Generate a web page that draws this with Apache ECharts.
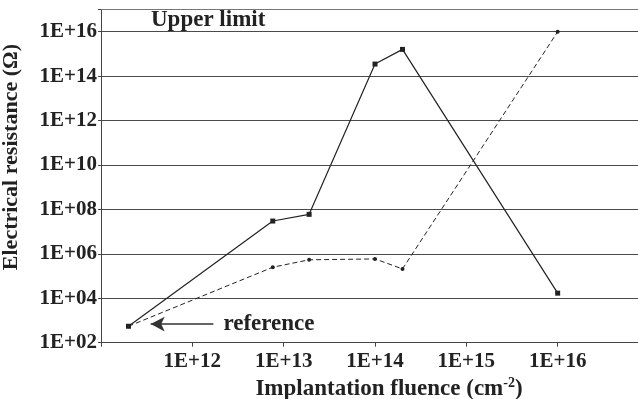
<!DOCTYPE html>
<html>
<head>
<meta charset="utf-8">
<script src="https://cdn.jsdelivr.net/npm/echarts@6/dist/echarts.min.js"></script>
<style>
  html, body { margin: 0; padding: 0; background: #fff; }
  #chart { width: 638px; height: 399px; }
</style>
</head>
<body>
<div id="chart"></div>
<script>
// Implantation fluence (cm^-2) of each sample; the first one is the unimplanted reference
const fluence = [2e11, 7.6e12, 1.9e13, 1e14, 2e14, 1e16];
// Electrical resistance (Ohm), solid curve with square markers
const resistanceSolid = [550, 3e7, 6e7, 3.5e14, 1.6e15, 1.7e4];
// Electrical resistance (Ohm), dashed curve with small dot markers
const resistanceDashed = [550, 2.5e5, 5.4e5, 5.9e5, 2.1e5, 1e16];

const xTickLabels = ['1E+12', '1E+13', '1E+14', '1E+15', '1E+16'];
const yTickLabels = ['1E+02', '1E+04', '1E+06', '1E+08', '1E+10', '1E+12', '1E+14', '1E+16'];

const upperLimit = 1e17;
const referenceArrow = { from: [1.7e12, 690], to: [3.5e11, 690] };

const FONT = '"Liberation Serif", "Times New Roman", serif';

function expLabel(v) {
  const e = Math.round(Math.log10(v));
  return '1E+' + String(e).padStart(2, '0');
}

const chart = echarts.init(document.getElementById('chart'), null, { renderer: 'canvas' });

chart.setOption({
  backgroundColor: '#fff',
  animation: false,
  grid: { left: 101, right: -11, top: 9.5, bottom: 56.3, containLabel: false, outerBoundsMode: 'none' },
  xAxis: {
    type: 'log',
    logBase: 10,
    min: 1e11,
    max: 1e17,
    interval: 1,
    name: 'Implantation fluence (cm{sup|-2})',
    nameLocation: 'middle',
    nameGap: 32,
    nameTextStyle: {
      fontFamily: FONT, fontWeight: 'bold', fontSize: 23, color: '#222',
      padding: [0, 0, 0, 28],
      rich: { sup: { fontFamily: FONT, fontWeight: 'bold', fontSize: 14, color: '#222', verticalAlign: 'top', padding: [0, 0, 10, 0] } }
    },
    axisLine: { show: true, lineStyle: { color: '#444', width: 1 } },
    axisTick: { show: true, length: 4, lineStyle: { color: '#444' } },
    minorTick: { show: false },
    splitLine: { show: false },
    axisLabel: {
      margin: 8,
      fontFamily: FONT, fontWeight: 'bold', fontSize: 21, color: '#222',
      formatter: function (v) {
        const s = expLabel(v);
        return xTickLabels.indexOf(s) >= 0 ? s : '';
      }
    }
  },
  yAxis: {
    type: 'log',
    logBase: 10,
    min: 1e2,
    max: upperLimit,
    interval: 2,
    name: 'Electrical resistance (Ω)',
    nameLocation: 'middle',
    nameGap: 79,
    nameTextStyle: {
      fontFamily: FONT, fontWeight: 'bold', fontSize: 22, color: '#222',
      padding: [0, 0, 0, 38]
    },
    axisLine: { show: true, lineStyle: { color: '#444', width: 1 } },
    axisTick: { show: true, length: 3, lineStyle: { color: '#444' } },
    minorTick: { show: false },
    splitLine: { show: true, lineStyle: { color: '#4a4a4a', width: 1 } },
    axisLabel: {
      margin: 4,
      fontFamily: FONT, fontWeight: 'bold', fontSize: 21, color: '#222',
      formatter: function (v) {
        const s = expLabel(v);
        return yTickLabels.indexOf(s) >= 0 ? s : '';
      }
    }
  },
  graphic: [
    {
      type: 'text',
      left: 151,
      top: 9,
      style: { text: 'Upper limit', font: 'bold 23px ' + FONT, fill: '#222' }
    }
  ],
  series: [
    {
      name: 'solid',
      type: 'line',
      data: fluence.map((x, i) => [x, resistanceSolid[i]]),
      symbol: 'rect',
      symbolSize: 5,
      showAllSymbol: true,
      lineStyle: { color: '#222', width: 1.2, type: 'solid' },
      itemStyle: { color: '#222' },
      markLine: {
        silent: true,
        symbol: 'none',
        label: { show: false },
        lineStyle: { color: '#777', width: 1, type: 'solid' },
        data: [{ yAxis: upperLimit }]
      }
    },
    {
      name: 'dashed',
      type: 'line',
      data: fluence.map((x, i) => [x, resistanceDashed[i]]),
      symbol: 'circle',
      symbolSize: 4,
      showAllSymbol: true,
      lineStyle: { color: '#222', width: 1, type: [5, 3] },
      itemStyle: { color: '#222' },
      markLine: {
        silent: true,
        symbol: ['none', 'arrow'],
        symbolSize: [11, 14],
        lineStyle: { color: '#333', width: 1.5, type: 'solid' },
        label: {
          show: true,
          position: 'start',
          distance: 10,
          formatter: 'reference',
          fontFamily: FONT, fontWeight: 'bold', fontSize: 23, color: '#222'
        },
        data: [[{ coord: referenceArrow.from }, { coord: referenceArrow.to }]]
      }
    }
  ]
});
</script>
</body>
</html>
